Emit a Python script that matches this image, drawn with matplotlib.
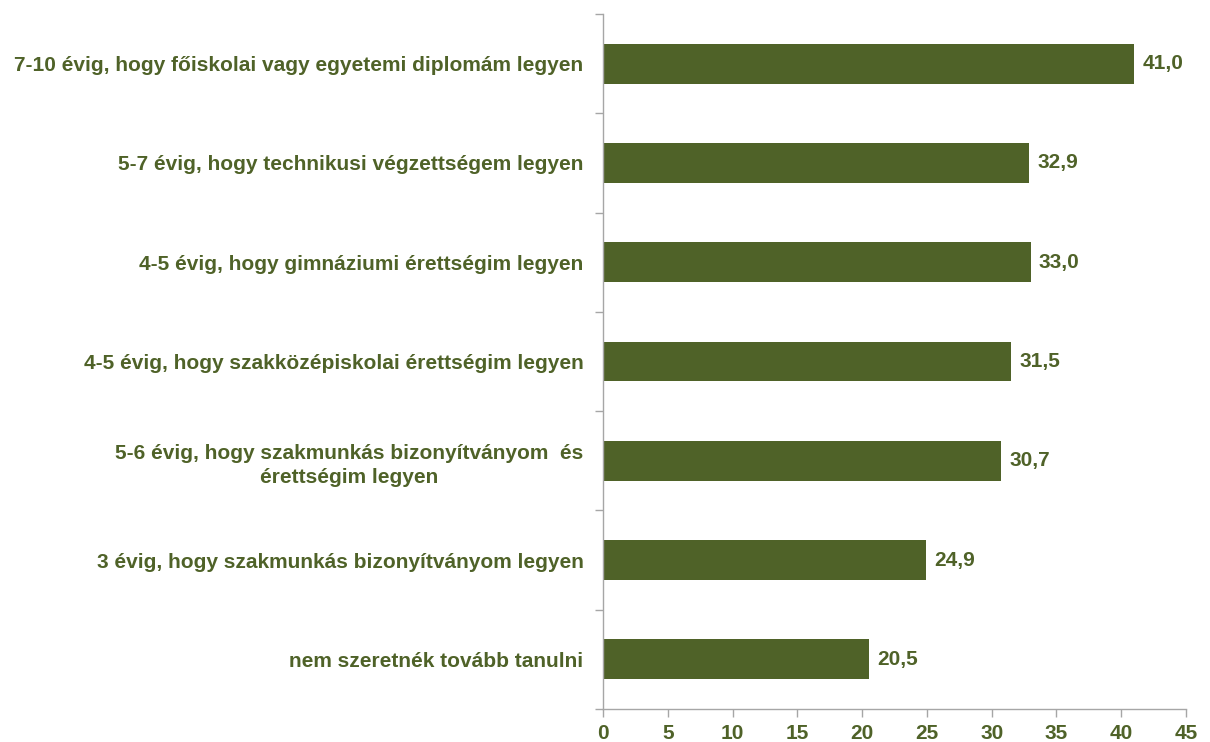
import matplotlib
matplotlib.use("Agg")
import matplotlib.pyplot as plt
import numpy as np

categories = [
    "7-10 évig, hogy főiskolai vagy egyetemi diplomám legyen",
    "5-7 évig, hogy technikusi végzettségem legyen",
    "4-5 évig, hogy gimnáziumi érettségim legyen",
    "4-5 évig, hogy szakközépiskolai érettségim legyen",
    "5-6 évig, hogy szakmunkás bizonyítványom  és\nérettségim legyen",
    "3 évig, hogy szakmunkás bizonyítványom legyen",
    "nem szeretnék tovább tanulni",
]
values = [41.0, 32.9, 33.0, 31.5, 30.7, 24.9, 20.5]
xticks = [0, 5, 10, 15, 20, 25, 30, 35, 40, 45]

green = "#4F6228"
gray = "#A6A6A6"

plt.rcParams["font.family"] = ["Liberation Sans", "DejaVu Sans"]
plt.rcParams["font.weight"] = "bold"

fs = 15

fig = plt.figure(figsize=(12.10, 7.42), dpi=100)
ax = fig.add_axes([603/1210, 1-709/742, (1186-603)/1210, (709-14)/742])

n = len(categories)
ypos = np.arange(n)[::-1]
ax.barh(ypos, values, height=0.4, color=green, zorder=2)

for y, v in zip(ypos, values):
    ax.text(v + 0.65, y, f"{v:.1f}".replace(".", ","), va="center", ha="left",
            color=green, fontsize=fs, fontweight="bold")

ax.set_xlim(0, 45)
ax.set_ylim(-0.5, n - 0.5)
ax.set_xticks(xticks)
ax.set_xticklabels([str(t) for t in xticks], color=green, fontsize=fs, fontweight="bold")

ax.set_yticks(ypos)
ax.set_yticklabels(categories, color=green, fontsize=fs, fontweight="bold",
                   multialignment="center", linespacing=1.35)
ax.set_yticks(np.arange(-0.5, n, 1.0), minor=True)
ax.tick_params(axis="y", which="major", length=0, pad=14)
ax.tick_params(axis="y", which="minor", length=6, color=gray, width=1, direction="out")
ax.tick_params(axis="x", which="major", length=6, color=gray, width=1, direction="out", pad=5)

for s in ["top", "right"]:
    ax.spines[s].set_visible(False)
for s in ["left", "bottom"]:
    ax.spines[s].set_color(gray)
    ax.spines[s].set_linewidth(1)

fig.savefig("out.png", dpi=100)
